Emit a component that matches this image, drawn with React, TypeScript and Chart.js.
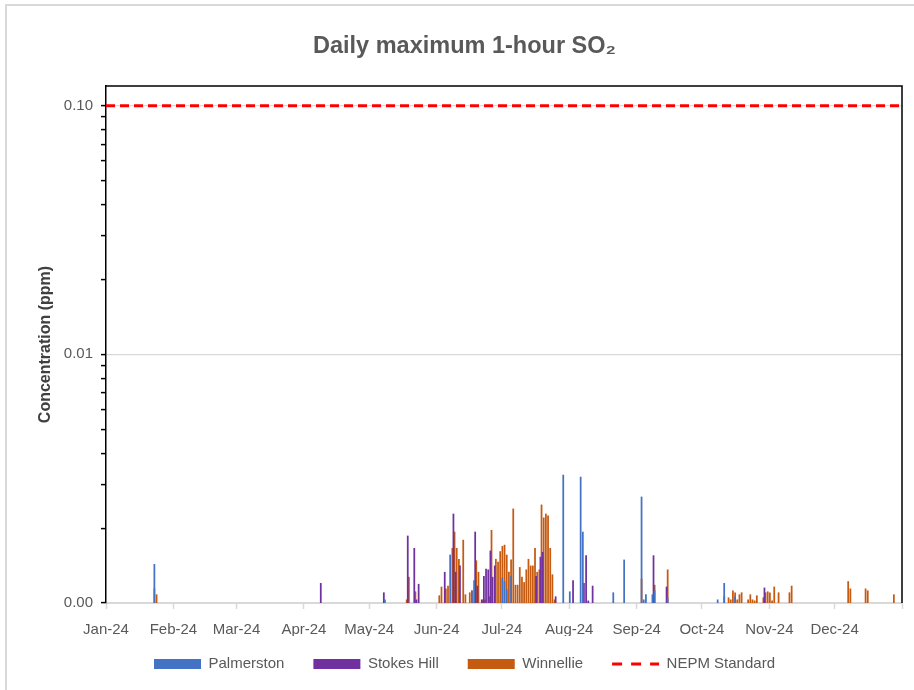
import React, { useEffect, useRef } from 'react';
import { Chart, registerables } from 'chart.js';

Chart.register(...registerables);

const monthLabels = ['Jan-24', 'Feb-24', 'Mar-24', 'Apr-24', 'May-24', 'Jun-24', 'Jul-24', 'Aug-24', 'Sep-24', 'Oct-24', 'Nov-24', 'Dec-24', ''];
const monthStartDates = ['2024-01-01', '2024-02-01', '2024-03-01', '2024-04-01', '2024-05-01', '2024-06-01', '2024-07-01', '2024-08-01', '2024-09-01', '2024-10-01', '2024-11-01', '2024-12-01', '2025-01-01'];

const majorTicks = [0.001, 0.01, 0.1];
const minorMultipliers = [2, 3, 4, 5, 6, 7, 8, 9];

const palmerstonDates = ['2024-01-23', '2024-05-08', '2024-06-07', '2024-06-17', '2024-06-18', '2024-07-01', '2024-07-02', '2024-07-03', '2024-07-05', '2024-07-29', '2024-08-01', '2024-08-06', '2024-08-07', '2024-08-21', '2024-08-26', '2024-09-03', '2024-09-04', '2024-09-05', '2024-09-08', '2024-09-09', '2024-09-15', '2024-10-08', '2024-10-11', '2024-10-16'];
const palmerstonValues = [0.00143, 0.00103, 0.00156, 0.00112, 0.00123, 0.00126, 0.00122, 0.00113, 0.00128, 0.00327, 0.00111, 0.00321, 0.00193, 0.0011, 0.00149, 0.00267, 0.00103, 0.00108, 0.00108, 0.00112, 0.00105, 0.00103, 0.0012, 0.00106];

const stokesHillDates = ['2024-04-08', '2024-05-07', '2024-05-18', '2024-05-21', '2024-05-22', '2024-05-23', '2024-06-04', '2024-06-08', '2024-06-09', '2024-06-11', '2024-06-18', '2024-06-19', '2024-06-21', '2024-06-22', '2024-06-23', '2024-06-24', '2024-06-25', '2024-06-26', '2024-06-27', '2024-07-16', '2024-07-18', '2024-07-19', '2024-07-25', '2024-08-02', '2024-08-07', '2024-08-08', '2024-08-09', '2024-08-11', '2024-09-08', '2024-09-14', '2024-10-29'];
const stokesHillValues = [0.0012, 0.0011, 0.00186, 0.00166, 0.00103, 0.00119, 0.00133, 0.00228, 0.00133, 0.00141, 0.00193, 0.00117, 0.00103, 0.00128, 0.00137, 0.00136, 0.00162, 0.00127, 0.00141, 0.00128, 0.00153, 0.0016, 0.00106, 0.00123, 0.0012, 0.00155, 0.00102, 0.00117, 0.00155, 0.00116, 0.00115];

const winnellieDates = ['2024-01-22', '2024-01-23', '2024-05-17', '2024-05-18', '2024-05-21', '2024-06-01', '2024-06-02', '2024-06-04', '2024-06-05', '2024-06-07', '2024-06-08', '2024-06-09', '2024-06-10', '2024-06-12', '2024-06-13', '2024-06-15', '2024-06-16', '2024-06-18', '2024-06-19', '2024-06-21', '2024-06-22', '2024-06-24', '2024-06-25', '2024-06-27', '2024-06-28', '2024-06-29', '2024-06-30', '2024-07-01', '2024-07-02', '2024-07-03', '2024-07-04', '2024-07-05', '2024-07-06', '2024-07-07', '2024-07-08', '2024-07-09', '2024-07-10', '2024-07-11', '2024-07-12', '2024-07-13', '2024-07-14', '2024-07-15', '2024-07-16', '2024-07-17', '2024-07-18', '2024-07-19', '2024-07-20', '2024-07-21', '2024-07-22', '2024-07-23', '2024-07-24', '2024-09-02', '2024-09-08', '2024-09-14', '2024-10-10', '2024-10-12', '2024-10-13', '2024-10-14', '2024-10-15', '2024-10-16', '2024-10-17', '2024-10-18', '2024-10-21', '2024-10-22', '2024-10-23', '2024-10-24', '2024-10-25', '2024-10-28', '2024-10-29', '2024-10-30', '2024-10-31', '2024-11-01', '2024-11-02', '2024-11-04', '2024-11-09', '2024-11-10', '2024-12-06', '2024-12-07', '2024-12-14', '2024-12-15', '2024-12-27'];
const winnellieValues = [0.00114, 0.00108, 0.00103, 0.00127, 0.00111, 0.00107, 0.00116, 0.00114, 0.00117, 0.00166, 0.00193, 0.00166, 0.0015, 0.00179, 0.00108, 0.0011, 0.00112, 0.00148, 0.00133, 0.00103, 0.00103, 0.00106, 0.00196, 0.0015, 0.00146, 0.00161, 0.00169, 0.00171, 0.00156, 0.00133, 0.00149, 0.00239, 0.00118, 0.00118, 0.00139, 0.00127, 0.00121, 0.00136, 0.0015, 0.00141, 0.00141, 0.00166, 0.00133, 0.00136, 0.00248, 0.0022, 0.00228, 0.00224, 0.00166, 0.0013, 0.00103, 0.00125, 0.00118, 0.00136, 0.00106, 0.00105, 0.00103, 0.00112, 0.0011, 0.00103, 0.00108, 0.0011, 0.00103, 0.00108, 0.00103, 0.00102, 0.00107, 0.00105, 0.0011, 0.00111, 0.0011, 0.00102, 0.00116, 0.0011, 0.0011, 0.00117, 0.00122, 0.00114, 0.00114, 0.00112, 0.00108];

const nepmStandard = 0.1;

const FONT = "'Liberation Sans', Arial, sans-serif";
const TEXT = '#595959';

const dayIndex = (s: string) =>
  (Date.UTC(+s.slice(0, 4), +s.slice(5, 7) - 1, +s.slice(8, 10)) - Date.UTC(2024, 0, 1)) / 86400000;

const toPoints = (dates: string[], values: number[]) =>
  dates.map((d, i) => ({ x: dayIndex(d) + 0.75, y: values[i] }));

const framePlugin = {
  id: 'frame',
  afterLayout(chart: any) {
    const lg = chart.legend;
    if (lg) {
      lg.top -= 8.5;
      lg.bottom -= 8.5;
    }
  },
  afterDatasetsDraw(chart: any) {
    const { ctx, chartArea } = chart;
    const { left, top, right, bottom } = chartArea;
    ctx.save();
    ctx.strokeStyle = '#000';
    ctx.lineWidth = 1.5;
    ctx.beginPath();
    ctx.moveTo(left, top);
    ctx.lineTo(right, top);
    ctx.lineTo(right, bottom);
    ctx.stroke();
    ctx.restore();
  },
};

export default function App() {
  const ref = useRef<HTMLCanvasElement | null>(null);

  useEffect(() => {
    if (!ref.current) return;
    const monthDays = monthStartDates.map(dayIndex);
    const yTicks: number[] = [];
    majorTicks.forEach((m, i) => {
      yTicks.push(m);
      if (i < majorTicks.length - 1) minorMultipliers.forEach((k) => yTicks.push(+(m * k).toFixed(6)));
    });
    const isMajor = (v: number) => majorTicks.some((m) => Math.abs(m - v) < 1e-9);

    const chart = new Chart(ref.current, {
      type: 'bar',
      data: {
        datasets: [
          {
            type: 'bar',
            label: 'Palmerston',
            data: toPoints(palmerstonDates, palmerstonValues),
            backgroundColor: '#4472C4',
            barThickness: 1.1,
          },
          {
            type: 'bar',
            label: 'Stokes Hill',
            data: toPoints(stokesHillDates, stokesHillValues),
            backgroundColor: '#7030A0',
            barThickness: 1.1,
          },
          {
            type: 'bar',
            label: 'Winnellie',
            data: toPoints(winnellieDates, winnellieValues),
            backgroundColor: '#C55A11',
            barThickness: 1.1,
          },
          {
            type: 'line',
            label: 'NEPM Standard',
            data: [
              { x: monthDays[0], y: nepmStandard },
              { x: monthDays[monthDays.length - 1], y: nepmStandard },
            ],
            borderColor: '#FF0000',
            backgroundColor: '#FF0000',
            borderWidth: 3,
            borderDash: [9, 5],
            pointRadius: 0,
            fill: false,
          },
        ] as any,
      },
      options: {
        animation: false,
        responsive: false,
        maintainAspectRatio: false,
        layout: { padding: { left: 24, right: 9, top: 0, bottom: 0 } },
        plugins: {
          tooltip: { enabled: false },
          title: {
            display: true,
            text: 'Daily maximum 1-hour SO₂',
            color: TEXT,
            font: { family: FONT, size: 23.5, weight: 'bold' },
            padding: { top: 32, bottom: 25.8 },
          },
          legend: {
            position: 'bottom',
            labels: {
              usePointStyle: true,
              pointStyleWidth: 47,
              boxHeight: 10,
              padding: 29,
              color: TEXT,
              font: { family: FONT, size: 15 },
              generateLabels: (chart: any) =>
                chart.data.datasets.map((ds: any, i: number) => {
                  const isLine = ds.type === 'line';
                  return {
                    text: ds.label,
                    fillStyle: isLine ? 'rgba(0,0,0,0)' : ds.backgroundColor,
                    strokeStyle: isLine ? ds.borderColor : ds.backgroundColor,
                    lineWidth: isLine ? 3 : 0,
                    lineDash: isLine ? [10, 9] : [],
                    pointStyle: isLine ? 'line' : 'rect',
                    datasetIndex: i,
                    hidden: false,
                    fontColor: TEXT,
                  };
                }),
            },
          },
        },
        scales: {
          x: {
            type: 'linear',
            offset: false,
            min: monthDays[0],
            max: monthDays[monthDays.length - 1],
            afterBuildTicks: (scale: any) => {
              scale.ticks = monthDays.map((v) => ({ value: v }));
            },
            afterFit: (scale: any) => {
              scale.height = 33;
            },
            ticks: {
              autoSkip: false,
              maxRotation: 0,
              padding: 12,
              color: TEXT,
              font: { family: FONT, size: 15 },
              callback: (_v: any, i: number) => monthLabels[i],
            },
            grid: {
              offset: false,
              drawOnChartArea: false,
              drawTicks: true,
              tickLength: 6,
              tickColor: '#d9d9d9',
              tickWidth: 1.5,
            },
            border: { color: '#d9d9d9', width: 2 },
          },
          y: {
            type: 'logarithmic',
            min: 0.001,
            max: 0.12,
            afterBuildTicks: (scale: any) => {
              scale.ticks = yTicks.map((v) => ({ value: v, major: isMajor(v) }));
            },
            afterFit: (scale: any) => {
              scale.width = 106 - 24;
            },
            title: {
              display: true,
              text: 'Concentration (ppm)',
              color: '#404040',
              font: { family: FONT, size: 16, weight: 'bold' },
              padding: { top: 12, bottom: 0 },
            },
            ticks: {
              autoSkip: false,
              padding: 8,
              color: TEXT,
              font: { family: FONT, size: 15 },
              callback: (v: any) => (isMajor(+v) ? (+v).toFixed(2) : ''),
            },
            grid: {
              color: (ctx: any) => (ctx.tick && isMajor(ctx.tick.value) ? '#d9d9d9' : 'rgba(0,0,0,0)'),
              lineWidth: 1.2,
              drawTicks: true,
              tickLength: 5,
              tickColor: '#000',
              tickWidth: 1.5,
            },
            border: { color: '#000', width: 1.5 },
          },
        },
      } as any,
      plugins: [framePlugin],
    });
    return () => chart.destroy();
  }, []);

  return (
    <div style={{ position: 'fixed', left: 0, top: 0, width: 914, height: 690, background: '#fff', overflow: 'hidden' }}>
      <div
        style={{
          position: 'absolute',
          left: 5,
          top: 4,
          width: 1200,
          height: 1200,
          borderTop: '2px solid #d9d9d9',
          borderLeft: '2px solid #d9d9d9',
        }}
      />
      <canvas ref={ref} width={914} height={690} style={{ position: 'absolute', left: 0, top: 0, width: 914, height: 690 }} />
    </div>
  );
}
